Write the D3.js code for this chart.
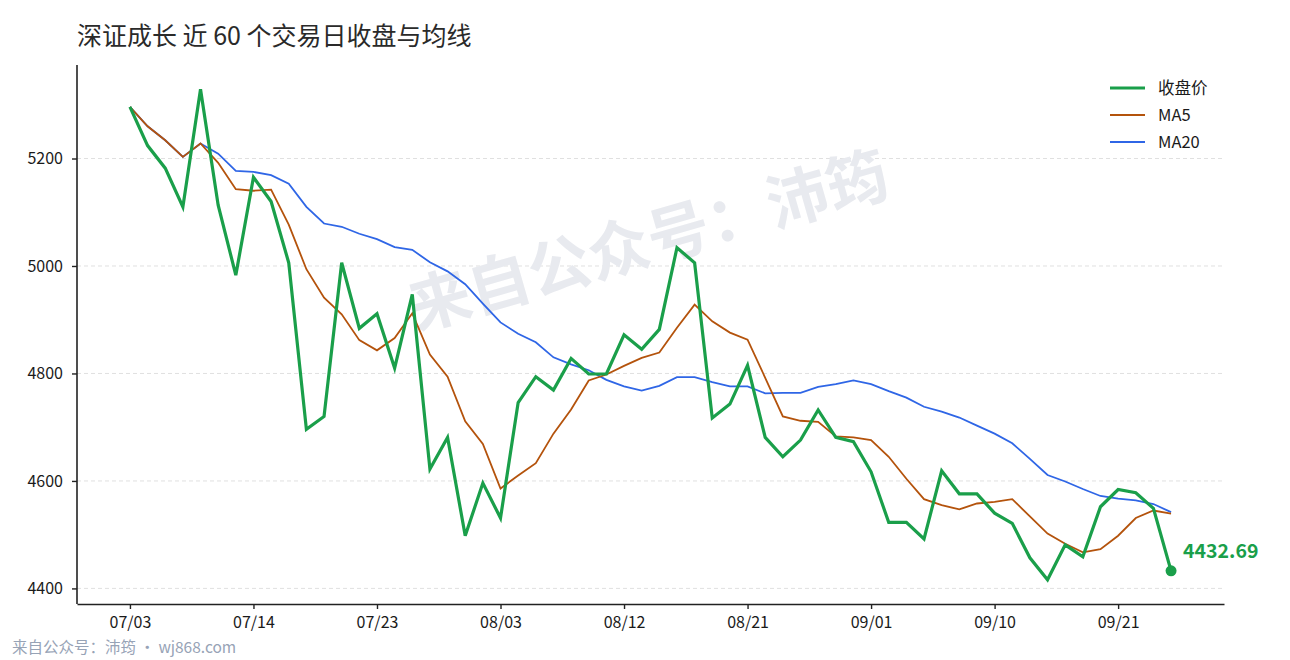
<!DOCTYPE html>
<html>
<head>
<meta charset="utf-8">
<script src="https://cdn.jsdelivr.net/npm/d3@7"></script>
<style>
  html, body { margin: 0; padding: 0; background: #fff; }
  svg { display: block; font-family: "Noto Sans CJK SC", "Noto Sans", sans-serif; }
</style>
</head>
<body>
<div id="chart"></div>
<script>
'use strict';

// 交易日（2026 年 7–9 月）
const dates = [
  '07/03','07/06','07/07','07/08','07/09','07/10','07/13','07/14','07/15','07/16',
  '07/17','07/20','07/21','07/22','07/23','07/24','07/27','07/28','07/29','07/30',
  '07/31','08/03','08/04','08/05','08/06','08/07','08/10','08/11','08/12','08/13',
  '08/14','08/17','08/18','08/19','08/20','08/21','08/24','08/25','08/26','08/27',
  '08/28','08/31','09/01','09/02','09/03','09/04','09/07','09/08','09/09','09/10',
  '09/11','09/14','09/15','09/16','09/17','09/18','09/21','09/22','09/23','09/24'
]

// 收盘价
const close = [
  5296, 5224, 5182, 5110, 5329, 5113, 4983, 5165, 5120, 5006,
  4696, 4720, 5006, 4884, 4911, 4810, 4947, 4622, 4681, 4498,
  4596, 4531, 4746, 4794, 4769, 4828, 4799, 4799, 4872, 4845,
  4882, 5034, 5006, 4717, 4743, 4815, 4681, 4645, 4676, 4732,
  4681, 4673, 4617, 4523, 4523, 4492, 4619, 4576, 4576, 4540,
  4521, 4457, 4416, 4481, 4459, 4552, 4584, 4578, 4549, 4432.69
]

const ma5 = [
  5296, 5260, 5234, 5203, 5228, 5192, 5143, 5140, 5142, 5077,
  4994, 4941, 4910, 4862, 4843, 4866, 4912, 4835, 4794, 4711,
  4669, 4586, 4610, 4633, 4688, 4733, 4787, 4798, 4814, 4829,
  4839, 4885, 4928, 4897, 4876, 4863, 4792, 4720, 4712, 4710,
  4683, 4681, 4676, 4645, 4604, 4566, 4555, 4547, 4558, 4561,
  4566, 4534, 4502, 4483, 4467, 4473, 4498, 4531, 4545, 4539
]

const ma20 = [
  5296, 5260, 5234, 5203, 5228, 5209, 5177, 5175, 5169, 5153,
  5110, 5079, 5073, 5060, 5050, 5035, 5030, 5007, 4990, 4966,
  4930, 4895, 4874, 4858, 4830, 4817, 4806, 4788, 4776, 4768,
  4777, 4793, 4793, 4784, 4776, 4776, 4763, 4764, 4764, 4775,
  4780, 4787, 4780, 4767, 4755, 4738, 4729, 4718, 4703, 4688,
  4670, 4641, 4611, 4599, 4585, 4572, 4567, 4564, 4557, 4542
]

const yTicks = [4400, 4600, 4800, 5000, 5200]
const xTickEvery = 7

const series = [
  { name: '收盘价', values: close, color: '#1a9f4a', width: 3.2 },
  { name: 'MA5', values: ma5, color: '#b4530c', width: 1.8 },
  { name: 'MA20', values: ma20, color: '#2f66e6', width: 1.8 }
]

const width = 1290, height = 660
const margin = { top: 65, right: 66, bottom: 56, left: 77 }

const svg = d3.select('#chart').append('svg')
    .attr('width', width)
    .attr('height', height)

const x = d3.scaleLinear()
    .domain([-3, dates.length + 2])
    .range([margin.left, width - margin.right])

const y = d3.scaleLinear()
    .domain([4371, 5374])
    .range([height - margin.bottom, margin.top])

// 标题
svg.append('text')
    .attr('x', 77)
    .attr('y', 45)
    .attr('font-size', 25)
    .attr('fill', '#2a2a2a')
    .text('深证成长 近 60 个交易日收盘与均线')

// 网格
svg.append('g')
  .selectAll('line')
  .data(yTicks)
  .join('line')
    .attr('x1', margin.left)
    .attr('x2', width - margin.right)
    .attr('y1', d => y(d))
    .attr('y2', d => y(d))
    .attr('stroke', '#dcdcdc')
    .attr('stroke-width', 0.9)
    .attr('stroke-dasharray', '4,3')

// 水印
svg.append('text')
    .attr('transform', 'translate(650,246) rotate(-16)')
    .attr('text-anchor', 'middle')
    .attr('dominant-baseline', 'middle')
    .attr('font-size', 62)
    .attr('font-weight', 'bold')
    .attr('fill', '#e8eaef')
    .text('来自公众号：沛筠')

// 坐标轴
const xAxis = d3.axisBottom(x)
    .tickValues(d3.range(0, dates.length, xTickEvery))
    .tickFormat(i => dates[i])
    .tickSize(5)
    .tickSizeOuter(0)
    .tickPadding(8)

const yAxis = d3.axisLeft(y)
    .tickValues(yTicks)
    .tickFormat(d3.format('d'))
    .tickSize(5)
    .tickSizeOuter(0)
    .tickPadding(9)

const gx = svg.append('g')
    .attr('transform', `translate(0,${height - margin.bottom})`)
    .call(xAxis)

const gy = svg.append('g')
    .attr('transform', `translate(${margin.left},0)`)
    .call(yAxis)

for (const g of [gx, gy]) {
  g.select('.domain').attr('stroke', '#222').attr('stroke-width', 1.6)
  g.selectAll('.tick line').attr('stroke', '#222').attr('stroke-width', 1.4)
  g.selectAll('.tick text')
      .attr('font-size', 16)
      .attr('fill', '#1a1a1a')
      .style('font-family', '"Noto Sans CJK SC", sans-serif')
}
// 顶部延伸的左轴线
gy.select('.domain').attr('d', `M0,${margin.top}V${height - margin.bottom}`)

// 折线
const line = d3.line()
    .x((d, i) => x(i))
    .y(d => y(d))

svg.append('g')
  .selectAll('path')
  .data(series.slice().reverse())
  .join('path')
    .attr('d', d => line(d.values))
    .attr('fill', 'none')
    .attr('stroke', d => d.color)
    .attr('stroke-width', d => d.width)
    .attr('stroke-linejoin', 'miter')
    .attr('stroke-linecap', 'butt')

// 最新值
const last = close.length - 1
svg.append('circle')
    .attr('cx', x(last))
    .attr('cy', y(close[last]))
    .attr('r', 5.5)
    .attr('fill', '#1a9f4a')

svg.append('text')
    .attr('x', x(last) + 12)
    .attr('y', y(close[last]) - 13)
    .attr('font-size', 19.5)
    .attr('font-weight', 'bold')
    .attr('fill', '#1a9f4a')
    .text(close[last].toFixed(2))

// 图例
const legend = svg.append('g')
    .attr('transform', 'translate(1110,88)')

const item = legend.selectAll('g')
  .data(series)
  .join('g')
    .attr('transform', (d, i) => `translate(0,${i * 27})`)

item.append('line')
    .attr('x1', 0)
    .attr('x2', 35)
    .attr('stroke', d => d.color)
    .attr('stroke-width', d => d.width)

item.append('text')
    .attr('x', 48)
    .attr('dy', '0.35em')
    .attr('font-size', 16.5)
    .attr('fill', '#1a1a1a')
    .text(d => d.name)

// 页脚
svg.append('text')
    .attr('x', 12)
    .attr('y', 653)
    .attr('font-size', 15.5)
    .attr('fill', '#97a3b6')
    .text('来自公众号：沛筠 · wj868.com')
</script>
</body>
</html>
